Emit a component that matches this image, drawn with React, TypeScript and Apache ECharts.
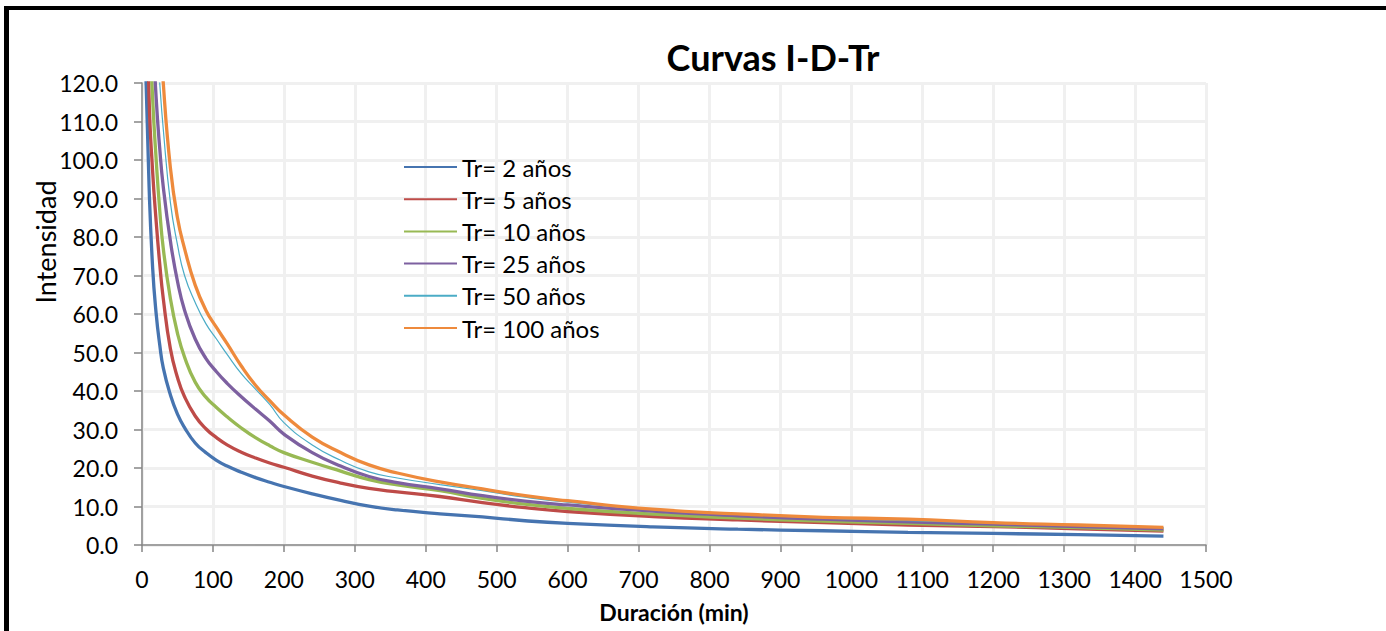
import { useEffect, useRef } from "react";
import * as echarts from "echarts";

const durations = [5, 10, 15, 20, 25, 30, 40, 50, 60, 75, 90, 105, 120, 140, 160, 180, 200, 240, 280, 320, 360, 420, 480, 540, 600, 720, 840, 960, 1080, 1200, 1320, 1440];

const seriesNames = ["Tr= 2 años", "Tr= 5 años", "Tr= 10 años", "Tr= 25 años", "Tr= 50 años", "Tr= 100 años"];

const tr2 = [125, 93, 72, 60, 52, 46, 39, 34, 30.5, 26.5, 24, 22, 20.5, 18.9, 17.5, 16.3, 15.2, 13.3, 11.6, 10.1, 9.1, 8.1, 7.3, 6.3, 5.6, 4.7, 4.1, 3.7, 3.3, 3.0, 2.7, 2.3];
const tr5 = [165, 116, 97, 84, 73, 64, 51, 43.5, 38.5, 33.5, 30.2, 27.9, 26, 24.1, 22.6, 21.3, 20.2, 17.9, 16.1, 14.7, 13.8, 12.6, 11, 9.7, 8.7, 7.4, 6.5, 5.8, 5.2, 4.8, 4.2, 3.6];
const tr10 = [200, 140, 116, 100, 87, 77, 64, 55, 48.8, 42.3, 38.4, 35.7, 33.3, 30.4, 27.9, 25.8, 24.0, 21.5, 19.2, 17, 15.6, 14.1, 12.1, 10.6, 9.5, 8.0, 7.0, 6.2, 5.6, 5.0, 4.5, 3.9];
const tr25 = [230, 165, 135, 116, 103, 93, 79, 68.5, 61, 53.5, 48.5, 45, 42, 38.5, 35.3, 32.2, 28.8, 24, 20.5, 17.8, 16.2, 14.6, 12.8, 11.4, 10.4, 8.8, 7.6, 6.7, 6.0, 5.4, 4.8, 4.2];
const tr50 = [280, 200, 160, 135, 120, 108, 89, 78, 70, 63, 57.5, 53.5, 49.5, 44.5, 40.5, 36.5, 31.8, 26, 22, 19, 17.4, 15.7, 14.1, 12.4, 11.1, 9.2, 8.0, 7.0, 6.3, 5.7, 5.1, 4.5];
const tr100 = [330, 240, 190, 160, 137, 120, 98, 85, 77, 67.5, 61, 56.5, 52.3, 46.5, 41.5, 37.5, 33.8, 28, 24, 20.8, 18.7, 16.4, 14.6, 12.8, 11.5, 9.3, 8.1, 7.2, 6.7, 5.8, 5.2, 4.6];

const allValues = [tr2, tr5, tr10, tr25, tr50, tr100];
const colors = ["#4674B0", "#BE4B48", "#98B954", "#7D60A0", "#4BACC6", "#EE8A3C"];
const widths = [3.3, 3.3, 3.3, 3.3, 1.2, 3.3];

const titleText = "Curvas I-D-Tr";
const yTitle = "Intensidad";
const xTitle = "Duración (min)";

const FONT = "Lato, 'Open Sans', sans-serif";

export default function App() {
  const ref = useRef<HTMLDivElement>(null);
  useEffect(() => {
    const chart = echarts.init(ref.current!, null, { renderer: "svg" });
    chart.setOption({
      animation: false,
      backgroundColor: "#ffffff",
      textStyle: { fontFamily: FONT },
      grid: { left: 142, right: 180, top: 83, bottom: 86, containLabel: false },
      graphic: [
        {
          type: "text",
          x: 773,
          y: 57,
          style: { text: titleText, font: `bold 36px ${FONT}`, fill: "#000", align: "center", verticalAlign: "middle" },
        },
        {
          type: "text",
          x: 45,
          y: 242,
          rotation: Math.PI / 2,
          style: { text: yTitle, font: `27px ${FONT}`, fill: "#000", align: "center", verticalAlign: "middle" },
        },
      ],
      legend: {
        orient: "vertical",
        left: 403,
        top: 155,
        padding: 0,
        itemWidth: 53,
        itemHeight: 14,
        itemGap: 8.2,
        itemStyle: { opacity: 0 },
        textStyle: { fontSize: 24, lineHeight: 24, color: "#000", fontFamily: FONT },
        data: seriesNames,
      },
      xAxis: {
        type: "value",
        min: 0,
        max: 1500,
        interval: 100,
        name: xTitle,
        nameLocation: "middle",
        nameGap: 55,
        nameTextStyle: { fontSize: 23, fontWeight: "bold", color: "#000", fontFamily: FONT },
        axisLine: { show: true, lineStyle: { color: "#868686", width: 1.5 } },
        axisTick: { show: true, length: 7, lineStyle: { color: "#868686", width: 1.5 } },
        axisLabel: { fontSize: 23, color: "#000", margin: 22, fontFamily: FONT, formatter: (v: number) => String(v) },
        splitLine: { show: true, lineStyle: { color: "#F0F0F0", width: 3 } },
      },
      yAxis: {
        type: "value",
        min: 0,
        max: 120,
        interval: 10,
        axisLine: { show: true, lineStyle: { color: "#868686", width: 1.5 } },
        axisTick: { show: true, length: 8, lineStyle: { color: "#868686", width: 1.5 } },
        axisLabel: { fontSize: 23, color: "#000", margin: 24, fontFamily: FONT, formatter: (v: number) => v.toFixed(1) },
        splitLine: { show: true, lineStyle: { color: "#F0F0F0", width: 3 } },
      },
      series: allValues.map((vals, i) => ({
        name: seriesNames[i],
        type: "line",
        data: durations.map((d, j) => [d, vals[j]]),
        showSymbol: false,
        symbol: "none",
        smooth: 0.5,
        clip: true,
        color: colors[i],
        lineStyle: { color: colors[i], width: widths[i] },
        z: 2 + i,
      })),
    });
    return () => chart.dispose();
  }, []);
  return (
    <div style={{ position: "fixed", left: 0, top: 0, width: 1386, height: 631, overflow: "hidden", background: "#fff" }}>
      <div ref={ref} style={{ position: "absolute", left: 0, top: 0, width: 1386, height: 631 }} />
      <div
        style={{
          position: "absolute",
          left: 4,
          top: 6,
          width: 1500,
          height: 800,
          borderLeft: "5px solid #000",
          borderTop: "4px solid #000",
          pointerEvents: "none",
        }}
      />
    </div>
  );
}
